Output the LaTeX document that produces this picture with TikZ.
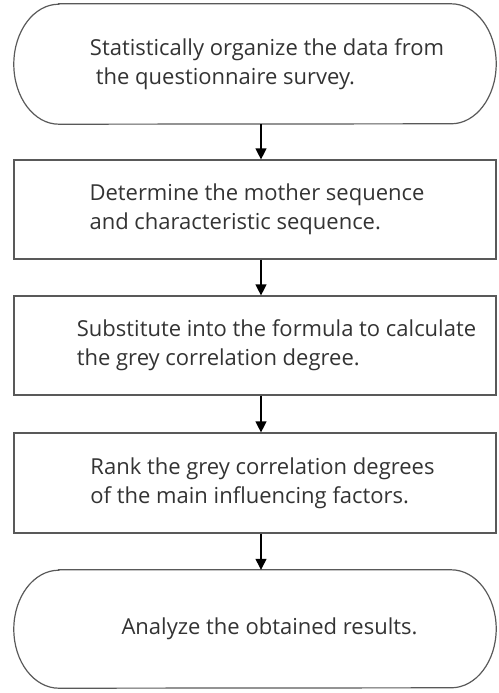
\documentclass[tikz,border=0pt]{standalone}
\usepackage{fontspec}
\setmainfont{Open Sans}
\usetikzlibrary{arrows.meta}

\begin{document}
\begin{tikzpicture}
[x=1pt, y=-1pt,
 nodes={font=\fontsize{22}{29}\selectfont, text=black!80, align=left, inner sep=0pt},
 stepbox/.style={draw=black!65, line width=1.2pt, minimum width=482pt},
 terminal/.style={minimum width=482pt},
 flow/.style={-{Triangle[length=11pt,width=11pt]}, line width=1.3pt, black},
 ends/.style={draw=black!65, line width=1.2pt}]
\useasboundingbox (0,0) rectangle (498,693);

\node (Survey) at (255,64) [terminal, minimum height=120pt] {\hspace*{24pt}Statistically organize the data from\\ \hspace*{30pt}the questionnaire survey.};
\node (Seq) at (255,209.5) [stepbox, minimum height=99pt] {\hspace*{4pt}Determine the mother sequence\\ \hspace*{4pt}and characteristic sequence.};
\node (Formula) at (255,345.5) [stepbox, minimum height=99pt] {\hspace*{43pt}Substitute into the formula to calculate\\ \hspace*{43pt}the grey correlation degree.};
\node (Rank) at (255,483) [stepbox, minimum height=100pt] {\hspace*{15pt}Rank the grey correlation degrees\\ \hspace*{15pt}of the main influencing factors.};
\node (Results) at (255,629) [terminal, minimum height=118pt] {\hspace*{29pt}Analyze the obtained results.};

% rounded ends of the first and last step
\draw[ends] ([xshift=45pt]Survey.north west) -- ([xshift=-45pt]Survey.north east)
  arc[start angle=90, end angle=-90, x radius=45pt, y radius=60pt]
  -- ([xshift=45pt]Survey.south west)
  arc[start angle=270, end angle=90, x radius=45pt, y radius=60pt] -- cycle;
\draw[ends] ([xshift=45pt]Results.north west) -- ([xshift=-45pt]Results.north east)
  arc[start angle=90, end angle=-90, x radius=45pt, y radius=59pt]
  -- ([xshift=45pt]Results.south west)
  arc[start angle=270, end angle=90, x radius=45pt, y radius=59pt] -- cycle;

\draw[flow] ([xshift=6pt]Survey.south) -- ([xshift=6pt]Seq.north);
\draw[flow] ([xshift=6pt]Seq.south) -- ([xshift=6pt]Formula.north);
\draw[flow] ([xshift=6pt]Formula.south) -- ([xshift=6pt]Rank.north);
\draw[flow] ([xshift=6pt]Rank.south) -- ([xshift=6pt]Results.north);
\end{tikzpicture}
\end{document}
